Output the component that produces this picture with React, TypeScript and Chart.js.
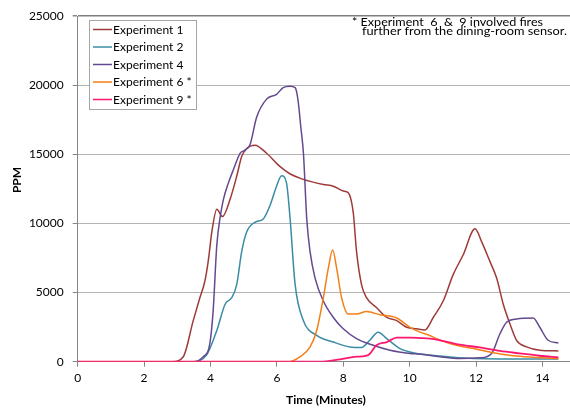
import React, { useEffect, useRef } from "react";
import { Chart, registerables } from "chart.js";

Chart.register(...registerables);

const seriesNames = ["Experiment 1", "Experiment 2", "Experiment 4", "Experiment 6 *", "Experiment 9 *"];
const seriesColors = ["#9E3B39", "#3A8CA4", "#63498F", "#F57F17", "#FF1670"];

const exp1X = [0, 2.85, 3.18, 3.48, 3.68, 3.83, 3.93, 4.04, 4.19, 4.36, 4.59, 4.79, 4.94, 5.09, 5.34, 5.69, 6.09, 6.39, 6.75, 7.4, 7.7, 8.0, 8.15, 8.3, 8.4, 8.55, 8.7, 9.0, 9.31, 9.61, 9.91, 10.21, 10.46, 10.71, 11.01, 11.31, 11.61, 11.97, 12.17, 12.42, 12.62, 12.82, 13.02, 13.22, 13.52, 13.92, 14.48];
const exp1Y = [0, 0, 360, 2970, 4630, 5820, 7240, 9380, 11040, 10500, 11750, 13420, 14840, 15430, 15670, 15080, 14130, 13600, 13230, 12820, 12700, 12350, 12230, 10800, 7960, 5580, 4630, 3920, 3200, 2970, 2490, 2380, 2300, 3200, 4390, 6300, 7720, 9620, 8670, 7240, 6050, 4160, 2740, 1550, 1070, 830, 780];

const exp2X = [0, 3.45, 3.88, 4.19, 4.44, 4.64, 4.79, 4.94, 5.09, 5.34, 5.59, 5.79, 5.99, 6.14, 6.29, 6.39, 6.55, 6.8, 7.2, 7.7, 8.2, 8.55, 8.8, 9.05, 9.31, 9.71, 10.21, 10.61, 11.3, 11.92, 14.48];
const exp2Y = [0, 0, 480, 2260, 4160, 4630, 5580, 7960, 9380, 10090, 10330, 11280, 12700, 13460, 12940, 10590, 5580, 2970, 1900, 1420, 1070, 1030, 1550, 2140, 1670, 950, 600, 480, 320, 240, 190];

const exp4X = [0, 3.5, 3.78, 3.98, 4.08, 4.19, 4.29, 4.39, 4.54, 4.69, 4.89, 5.04, 5.19, 5.39, 5.69, 5.99, 6.19, 6.39, 6.55, 6.64, 6.72, 6.8, 6.9, 7.0, 7.15, 7.4, 7.7, 8.0, 8.4, 8.9, 9.41, 10.01, 10.31, 10.91, 11.51, 12.12, 12.47, 12.72, 12.92, 13.22, 13.72, 13.92, 14.17, 14.48];
const exp4Y = [0, 0, 360, 1310, 3680, 8430, 10450, 11750, 12940, 13890, 15080, 15310, 15700, 17690, 19000, 19350, 19830, 19940, 19830, 18880, 17000, 15080, 10330, 7960, 6050, 4390, 3200, 2380, 1670, 1190, 830, 600, 550, 360, 240, 285, 600, 2020, 2850, 3090, 3160, 2490, 1550, 1350];

const exp6X = [0, 6.39, 6.7, 7.0, 7.2, 7.4, 7.55, 7.68, 7.8, 7.95, 8.15, 8.4, 8.7, 9.1, 9.61, 10.01, 10.31, 10.61, 10.81, 11.31, 11.92, 12.52, 13.12, 13.82, 14.48];
const exp6Y = [0, 0, 360, 1070, 2260, 4630, 6770, 8080, 6770, 4630, 3450, 3450, 3630, 3400, 3160, 2490, 2140, 1900, 1670, 1240, 950, 640, 430, 310, 210];

const exp9X = [0, 7.3, 7.9, 8.4, 8.75, 9.0, 9.31, 9.61, 10.01, 10.31, 10.61, 10.91, 11.51, 12.12, 12.72, 13.32, 13.92, 14.48];
const exp9Y = [0, 0, 170, 360, 480, 1190, 1420, 1740, 1740, 1710, 1670, 1550, 1240, 1030, 780, 600, 430, 310];

const seriesX = [exp1X, exp2X, exp4X, exp6X, exp9X];
const seriesY = [exp1Y, exp2Y, exp4Y, exp6Y, exp9Y];

const xTicks = [0, 2, 4, 6, 8, 10, 12, 14];
const yTicks = [0, 5000, 10000, 15000, 20000, 25000];

const noteLines = ["* Experiment  6  &  9 involved fires", "further from the dining-room sensor."];
const xTitle = "Time (Minutes)";
const yTitle = "PPM";

const FONT = "Lato, 'Open Sans', sans-serif";

function fitText(ctx: CanvasRenderingContext2D, text: string, x: number, y: number, width: number) {
  const w = ctx.measureText(text).width;
  ctx.save();
  ctx.translate(x, y);
  ctx.scale(width / w, 1);
  ctx.fillText(text, 0, 0);
  ctx.restore();
}

const overlayPlugin = {
  id: "overlay",
  afterDraw(chart: any) {
    const ctx = chart.ctx as CanvasRenderingContext2D;
    ctx.save();
    // legend box
    const lx = 89.5, ly = 20.5, lw = 107, lh = 89;
    ctx.fillStyle = "#ffffff";
    ctx.fillRect(lx, ly, lw, lh);
    ctx.strokeStyle = "#a6a6a6";
    ctx.lineWidth = 1;
    ctx.strokeRect(lx, ly, lw, lh);
    ctx.font = `12px ${FONT}`;
    ctx.textBaseline = "middle";
    ctx.textAlign = "left";
    seriesNames.forEach((name, i) => {
      const cy = 29.5 + i * 17.5;
      ctx.strokeStyle = seriesColors[i];
      ctx.lineWidth = 1.5;
      ctx.beginPath();
      ctx.moveTo(93, cy);
      ctx.lineTo(112, cy);
      ctx.stroke();
      ctx.fillStyle = "#000000";
      ctx.fillText(name, 113, cy + 0.5);
    });
    // note
    ctx.font = `11px ${FONT}`;
    ctx.fillStyle = "#000000";
    fitText(ctx, noteLines[0], 352, 22.5, 191);
    fitText(ctx, noteLines[1], 362, 31, 205);
    // axis titles
    ctx.font = `bold 12px ${FONT}`;
    ctx.textAlign = "center";
    ctx.fillText(xTitle, 326, 400);
    ctx.translate(17, 180);
    ctx.rotate(-Math.PI / 2);
    ctx.fillText(yTitle, 0, 0);
    ctx.restore();
  },
};

export default function App() {
  const ref = useRef<HTMLCanvasElement>(null);
  useEffect(() => {
    if (!ref.current) return;
    const orders = [4, 3, 2, 1, 0];
    const chart = new Chart(ref.current, {
      type: "line",
      data: {
        datasets: seriesNames.map((name, i) => ({
          label: name,
          data: seriesX[i].map((x, j) => ({ x, y: seriesY[i][j] })),
          borderColor: seriesColors[i],
          backgroundColor: seriesColors[i],
          borderWidth: i === 4 ? 1.8 : 1.5,
          pointRadius: 0,
          cubicInterpolationMode: "monotone" as const,
          fill: false,
          order: orders[i],
        })),
      },
      options: {
        animation: false,
        responsive: false,
        maintainAspectRatio: false,
        layout: { padding: { left: 0, right: 0, top: 11, bottom: 0 } },
        plugins: { legend: { display: false }, tooltip: { enabled: false } },
        scales: {
          x: {
            type: "linear",
            min: 0,
            max: 14.83,
            afterFit: (s: any) => { s.height = 49.3; },
            afterBuildTicks: (s: any) => { s.ticks = xTicks.map((v) => ({ value: v })); },
            ticks: { font: { family: FONT, size: 12 }, color: "#000000", padding: 4, maxRotation: 0, callback: (v: any) => String(v) },
            grid: { drawOnChartArea: false, drawTicks: true, tickLength: 5, tickColor: "#868686" },
            border: { color: "#868686", width: 1 },
          },
          y: {
            type: "linear",
            min: 0,
            max: 25000,
            afterFit: (s: any) => { s.width = 77.7; },
            afterBuildTicks: (s: any) => { s.ticks = yTicks.map((v) => ({ value: v })); },
            ticks: { font: { family: FONT, size: 12 }, color: "#000000", padding: 9, callback: (v: any) => String(v) },
            grid: {
              color: (c: any) => (c.tick && c.tick.value === 25000 ? "#7f7f7f" : "#b3b3b3"),
              lineWidth: (c: any) => (c.tick && c.tick.value === 25000 ? 1.5 : 1),
              drawTicks: true,
              tickLength: 5,
              tickColor: "#868686",
            },
            border: { color: "#868686", width: 1 },
          },
        },
      },
      plugins: [overlayPlugin],
    });
    return () => chart.destroy();
  }, []);
  return (
    <div style={{ position: "absolute", left: 0, top: 0, width: 570, height: 411, background: "#fff" }}>
      <canvas ref={ref} width={570} height={411} style={{ width: 570, height: 411, display: "block" }} />
    </div>
  );
}
